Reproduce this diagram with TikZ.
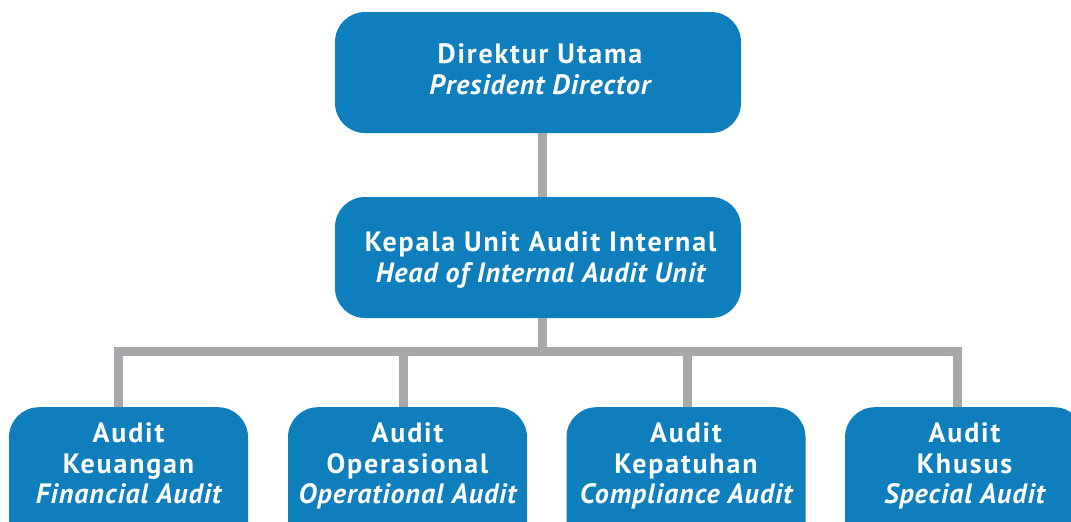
\documentclass[tikz,border=0pt]{standalone}
\usepackage{fontspec}
\setmainfont[LetterSpace=6.5, BoldItalicFeatures={LetterSpace=3.5}]{PT Sans}
\definecolor{boxblue}{HTML}{0E7EBD}
\definecolor{linegray}{HTML}{A7A8AB}
\begin{document}
\begin{tikzpicture}[x=1pt,y=-1pt,
  box/.style={fill=boxblue, rounded corners=30pt, minimum width=406pt, minimum height=121pt, inner sep=0pt},
  sbox/.style={fill=boxblue, rounded corners=30pt, minimum width=239pt, minimum height=150pt, inner sep=0pt, anchor=north},
  lbl/.style={text=white, font=\bfseries\fontsize{28}{31}\selectfont, inner sep=0pt, anchor=base},
  lbli/.style={text=white, font=\bfseries\itshape\fontsize{28}{31}\selectfont, inner sep=0pt, anchor=base},
  conn/.style={draw=linegray, line width=9pt}]
\useasboundingbox (0,0) rectangle (1071,522);
\clip (0,0) rectangle (1071,522);
% boxes
\node[box] (top) at (538,72.5) {};
\node[box] (mid) at (538,257.5) {};
\node[sbox] (b1) at (128.5,407) {};
\node[sbox] (b2) at (407.5,407) {};
\node[sbox] (b3) at (686,407) {};
\node[sbox] (b4) at (964.5,407) {};
% junction coordinates
\coordinate (j) at (542,351.5);
\coordinate (d1) at (118.5,351.5);
\coordinate (d2) at (403,351.5);
\coordinate (d3) at (687,351.5);
\coordinate (d4) at (957.5,351.5);
% connectors
\draw[conn] (top.south -| j) -- (mid.north -| j);
\draw[conn] (mid.south -| j) -- (j);
\draw[conn, line join=miter] (b1.north -| d1) -- (d1) -- (d4) -- (b4.north -| d4);
\draw[conn] (d2) -- (b2.north -| d2);
\draw[conn] (d3) -- (b3.north -| d3);
% texts
\node[lbl] (t1) at (540,63) {Direktur Utama};
\node[lbli] (t2) at (540,94) {President Director};
\node[lbl] (m1) at (540.5,251) {Kepala Unit Audit Internal};
\node[lbli] (m2) at (540.5,282) {Head of Internal Audit Unit};
\node[lbl] (a1) at (128.5,442) {Audit};
\node[lbl] (a2) at (128.5,473) {Keuangan};
\node[lbli] (a3) at (128.5,503) {Financial Audit};
\node[lbl] (o1) at (407.5,442) {Audit};
\node[lbl] (o2) at (407.5,473) {Operasional};
\node[lbli] (o3) at (407.5,503) {Operational Audit};
\node[lbl] (c1) at (686,442) {Audit};
\node[lbl] (c2) at (686,473) {Kepatuhan};
\node[lbli] (c3) at (686,503) {Compliance Audit};
\node[lbl] (s1) at (964.5,442) {Audit};
\node[lbl] (s2) at (964.5,473) {Khusus};
\node[lbli] (s3) at (964.5,503) {Special Audit};
\end{tikzpicture}
\end{document}
